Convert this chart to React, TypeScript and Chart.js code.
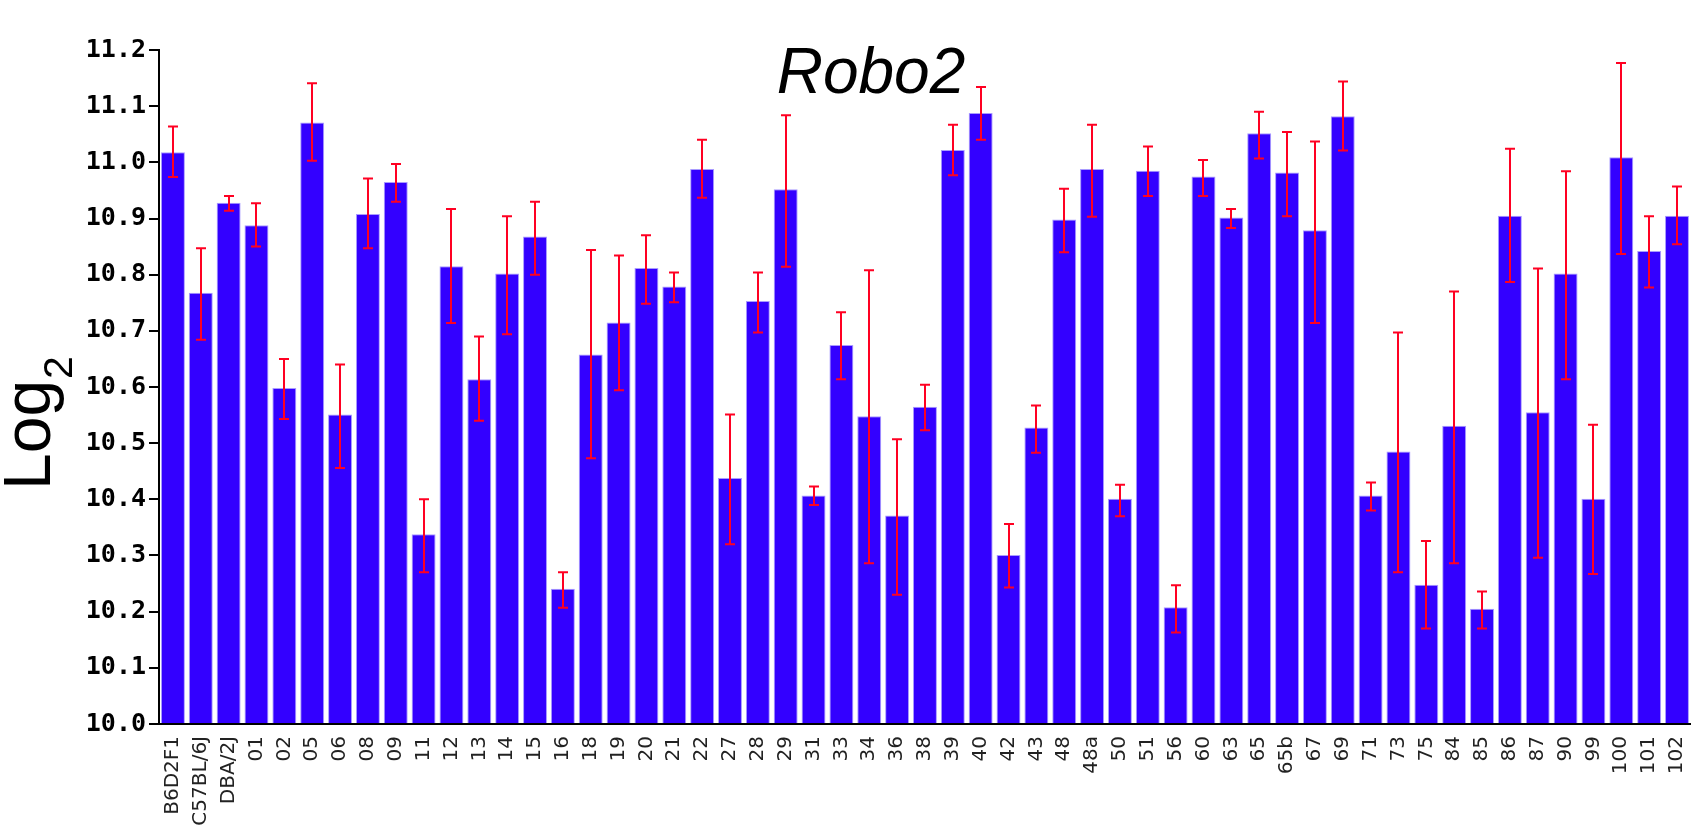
import React, { useEffect, useRef } from "react";
import { Chart, registerables } from "chart.js";

Chart.register(...registerables);

const categories = [
  "B6D2F1", "C57BL/6J", "DBA/2J", "01", "02", "05", "06", "08", "09", "11",
  "12", "13", "14", "15", "16", "18", "19", "20", "21", "22",
  "27", "28", "29", "31", "33", "34", "36", "38", "39", "40",
  "42", "43", "48", "48a", "50", "51", "56", "60", "63", "65",
  "65b", "67", "69", "71", "73", "75", "84", "85", "86", "87",
  "90", "99", "100", "101", "102",
];

const means = [
  11.018, 10.768, 10.928, 10.888, 10.598, 11.071, 10.551, 10.908, 10.965, 10.338,
  10.815, 10.614, 10.802, 10.868, 10.241, 10.658, 10.715, 10.812, 10.779, 10.988,
  10.438, 10.753, 10.952, 10.407, 10.675, 10.548, 10.371, 10.565, 11.022, 11.088,
  10.301, 10.528, 10.898, 10.988, 10.401, 10.985, 10.208, 10.975, 10.902, 11.052,
  10.982, 10.879, 11.082, 10.407, 10.485, 10.248, 10.531, 10.205, 10.905, 10.555,
  10.802, 10.401, 11.009, 10.842, 10.905,
];

const errUpper = [
  11.064, 10.847, 10.940, 10.927, 10.650, 11.141, 10.640, 10.971, 10.997, 10.400,
  10.917, 10.690, 10.904, 10.930, 10.270, 10.844, 10.834, 10.870, 10.804, 11.040,
  10.551, 10.804, 11.084, 10.423, 10.733, 10.808, 10.507, 10.604, 11.067, 11.134,
  10.356, 10.567, 10.953, 11.067, 10.426, 11.028, 10.247, 11.004, 10.917, 11.090,
  11.054, 11.037, 11.144, 10.430, 10.697, 10.326, 10.770, 10.236, 11.024, 10.811,
  10.984, 10.533, 11.177, 10.904, 10.957,
];

const errLower = [
  10.974, 10.684, 10.914, 10.850, 10.543, 11.003, 10.456, 10.847, 10.930, 10.270,
  10.714, 10.540, 10.694, 10.800, 10.207, 10.473, 10.594, 10.748, 10.751, 10.937,
  10.320, 10.697, 10.814, 10.390, 10.614, 10.286, 10.230, 10.523, 10.977, 11.040,
  10.243, 10.483, 10.840, 10.903, 10.370, 10.940, 10.163, 10.940, 10.883, 11.007,
  10.904, 10.714, 11.021, 10.380, 10.270, 10.170, 10.286, 10.170, 10.787, 10.296,
  10.614, 10.267, 10.837, 10.777, 10.854,
];

const yMin = 10.0;
const yMax = 11.2;
const yStep = 0.1;
const titleText = "Robo2";
const yLabelMain = "Log";
const yLabelSub = "2";

const W = 1705;
const H = 826;

const errorBarPlugin = {
  id: "errorBars",
  afterDatasetsDraw(chart: any) {
    const ctx = chart.ctx;
    const xs = chart.scales.x;
    const ys = chart.scales.y;
    ctx.save();
    ctx.strokeStyle = "#ff0022";
    ctx.lineWidth = 2;
    for (let i = 0; i < categories.length; i++) {
      const x = Math.round(xs.getPixelForValue(i));
      const yt = ys.getPixelForValue(errUpper[i]);
      const yb = ys.getPixelForValue(errLower[i]);
      ctx.beginPath();
      ctx.moveTo(x, yt);
      ctx.lineTo(x, yb);
      ctx.moveTo(x - 5, yt);
      ctx.lineTo(x + 5, yt);
      ctx.moveTo(x - 5, yb);
      ctx.lineTo(x + 5, yb);
      ctx.stroke();
    }
    ctx.restore();
  },
};

const textPlugin = {
  id: "texts",
  afterDraw(chart: any) {
    const ctx = chart.ctx;
    ctx.save();
    ctx.fillStyle = "#000";
    ctx.font = 'italic 64px "Liberation Sans", Arial, sans-serif';
    ctx.textAlign = "center";
    ctx.textBaseline = "alphabetic";
    ctx.fillText(titleText, 871, 93);

    ctx.translate(50, 490);
    ctx.rotate(-Math.PI / 2);
    ctx.textAlign = "left";
    ctx.font = '66px "Liberation Sans", Arial, sans-serif';
    ctx.fillText(yLabelMain, 0, 0);
    const w = ctx.measureText(yLabelMain).width;
    ctx.font = '41px "Liberation Sans", Arial, sans-serif';
    ctx.fillText(yLabelSub, w + 1, 22);
    ctx.restore();
  },
};

export default function App() {
  const ref = useRef<HTMLCanvasElement | null>(null);
  useEffect(() => {
    if (!ref.current) return;
    const chart = new Chart(ref.current, {
      type: "bar",
      data: {
        labels: categories,
        datasets: [
          {
            data: means,
            backgroundColor: "#3300ff",
            borderColor: "#a99bff",
            borderWidth: 1,
            barPercentage: 0.86,
            categoryPercentage: 1.0,
            base: yMin,
          },
        ],
      },
      options: {
        responsive: false,
        animation: false,
        devicePixelRatio: 1,
        layout: { padding: { top: 50, right: 1, left: 0, bottom: 0 } },
        plugins: {
          legend: { display: false },
          tooltip: { enabled: false },
          title: { display: false },
        },
        scales: {
          x: {
            grid: { display: false },
            border: { display: true, color: "#000", width: 2 },
            ticks: {
              autoSkip: false,
              minRotation: 90,
              maxRotation: 90,
              padding: 4,
              color: "#222",
              font: { family: '"DejaVu Sans", sans-serif', size: 20 },
            },
            afterFit(scale: any) {
              scale.height = 102;
            },
          },
          y: {
            min: yMin,
            max: yMax,
            grid: {
              display: true,
              drawOnChartArea: false,
              drawTicks: true,
              tickLength: 10,
              color: "#000",
              lineWidth: 2,
            },
            border: { display: true, color: "#000", width: 2 },
            ticks: {
              stepSize: yStep,
              padding: 3,
              color: "#000",
              font: { family: '"DejaVu Sans Mono", monospace', size: 25, weight: "bold" },
              callback: (v: any) => Number(v).toFixed(1),
            },
            afterFit(scale: any) {
              scale.width = 159;
            },
          },
        },
      },
      plugins: [errorBarPlugin, textPlugin],
    });
    return () => chart.destroy();
  }, []);
  return (
    <div style={{ position: "absolute", left: 0, top: 0, width: W, height: H, background: "#fff" }}>
      <canvas ref={ref} width={W} height={H} style={{ width: W, height: H, display: "block" }} />
    </div>
  );
}
